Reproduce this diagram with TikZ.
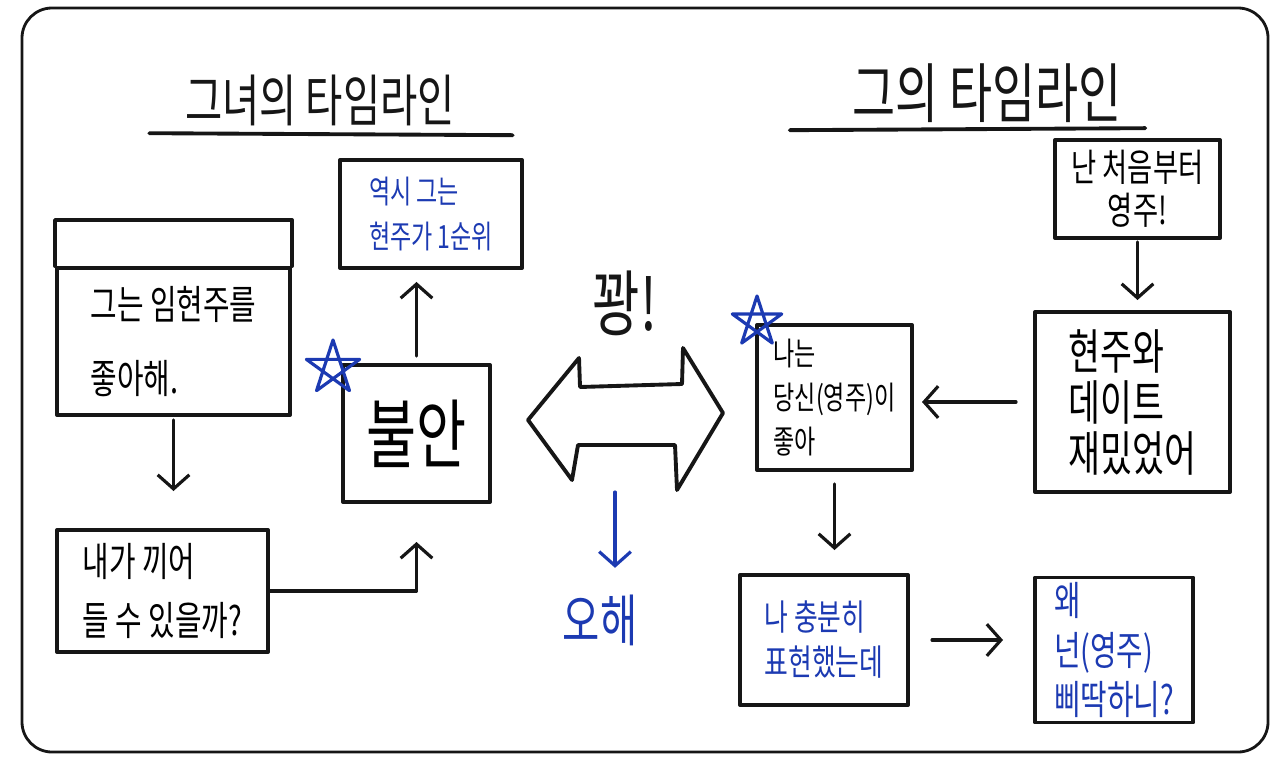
\documentclass[tikz,border=0pt]{standalone}
\usepackage{fontspec}
\newfontfamily\krhand[FakeStretch=0.72]{Noto Sans CJK KR}
\usepackage{xcolor}
\usepackage{tikz}
\usetikzlibrary{arrows.meta,calc}
\definecolor{penblue}{RGB}{28,58,178}
\definecolor{penblack}{RGB}{22,22,22}

\begin{document}
\begin{tikzpicture}[x=0.01cm, y=-0.01cm, >={Straight Barb[length=4pt,width=9pt]}, line join=round, line cap=round,
  card/.style={draw=penblack, line width=1.1pt, align=left, inner sep=0pt},
  word/.style={inner sep=0pt, text=penblack},
  link/.style={->, draw=penblack, line width=0.9pt},
  starline/.style={draw=penblue, line width=0.9pt}]
  \useasboundingbox (0,0) rectangle (1280,773);
  \draw[penblack, line width=0.8pt, rounded corners=0.3cm] (22,8) rectangle (1268,752);
  \node[word, font=\krhand\fontsize{16}{18}\selectfont] (herTitle) at (320,100) {그녀의 타임라인};
  \node[word, font=\krhand\fontsize{18.5}{20}\selectfont] (hisTitle) at (987,93) {그의 타임라인};
  \draw[penblack, line width=1.1pt] ($(herTitle.south west)+(-35,7)$) -- ($(herTitle.south east)+(57,9)$);
  \draw[penblack, line width=1.1pt] ($(hisTitle.south west)+(-62,7)$) -- ($(hisTitle.south east)+(23,5)$);
  \node[card, text=penblue, font=\krhand\fontsize{9.1}{13}\selectfont, minimum width=1.82cm, minimum height=1.08cm] (sure) at (431,214) {역시 그는\\현주가 1순위};
  \node[card, font=\krhand\fontsize{11.4}{21}\selectfont, minimum width=2.33cm, minimum height=1.47cm] (likes) at (173.5,341.5) {그는 임현주를\\좋아해.};
  \draw[penblack, line width=1.1pt] (likes.north west) -- ++(0,-46) -| (likes.north east);
  \node[card, font=\krhand\fontsize{11.4}{17}\selectfont, minimum width=2.11cm, minimum height=1.22cm] (cutin) at (162.5,591) {내가 끼어\\들 수 있을까?};
  \node[card, font=\krhand\fontsize{21.5}{24}\selectfont, minimum width=1.47cm, minimum height=1.37cm] (anxious) at (416.5,433.5) {불안};
  \node[card, font=\krhand\fontsize{9.1}{12.5}\selectfont, minimum width=1.55cm, minimum height=1.45cm] (likeyou) at (834.5,397.5) {나는\\당신(영주)이\\좋아};
  \node[card, text=penblue, font=\krhand\fontsize{10.2}{12.8}\selectfont, minimum width=1.68cm, minimum height=1.30cm] (enough) at (824,640) {나 충분히\\표현했는데};
  \node[card, text=penblue, font=\krhand\fontsize{11.4}{14}\selectfont, minimum width=1.58cm, minimum height=1.45cm] (why) at (1114,650) {왜\\넌(영주)\\삐딱하니?};
  \node[card, align=center, font=\krhand\fontsize{10.8}{12.2}\selectfont, minimum width=1.65cm, minimum height=0.98cm] (first) at (1137.5,189) {난 처음부터\\영주!};
  \node[card, font=\krhand\fontsize{13.7}{14.5}\selectfont, minimum width=1.95cm, minimum height=1.80cm] (date) at (1132.5,402) {현주와\\데이트\\재밌었어};
  \node[word, font=\krhand\fontsize{20.5}{22}\selectfont] (bang) at (625,303) {꽝!};
  \node[word, text=penblue, font=\krhand\fontsize{16}{18}\selectfont] (misread) at (600,620) {오해};
  \draw[penblack, line width=1.1pt] (528,420) -- (579,358) -- (580,387) -- (682,384) -- (683,348) -- (723,413) -- (677,490) -- (675,445) -- (578,445) -- (572,480) -- cycle;
  \coordinate (clash) at (615,492);
  \coordinate (starL) at (333,368);
  \coordinate (starR) at (757,322);
  \draw[starline] ($(starL)+(-90:28)$) -- ($(starL)+(54:28)$) -- ($(starL)+(198:28)$) -- ($(starL)+(-18:28)$) -- ($(starL)+(126:28)$) -- cycle;
  \draw[starline] ($(starR)+(-90:26)$) -- ($(starR)+(54:26)$) -- ($(starR)+(198:26)$) -- ($(starR)+(-18:26)$) -- ($(starR)+(126:26)$) -- cycle;
  \draw[link, shorten <=0.03cm, shorten >=0.37cm] (likes.south) -- (likes.south |- cutin.north);
  \draw[link, shorten >=0.38cm] (cutin.east) -| (anxious.south);
  \draw[link, shorten <=0.07cm, shorten >=0.12cm] (anxious.north) -- (anxious.north |- sure.south);
  \draw[link, shorten <=0.02cm, shorten >=0.10cm] (first.south) -- (first.south |- date.north);
  \draw[link, shorten <=0.17cm, shorten >=0.08cm] (date.west) -- (date.west -| likeyou.east);
  \draw[link, shorten <=0.12cm, shorten >=0.23cm] (likeyou.south) -- (likeyou.south |- enough.north);
  \draw[link, shorten <=0.22cm, shorten >=0.30cm] (enough.east) -- (enough.east -| why.west);
  \draw[link, draw=penblue, shorten >=0.26cm] (clash) -- (clash |- misread.north);
\end{tikzpicture}
\end{document}
